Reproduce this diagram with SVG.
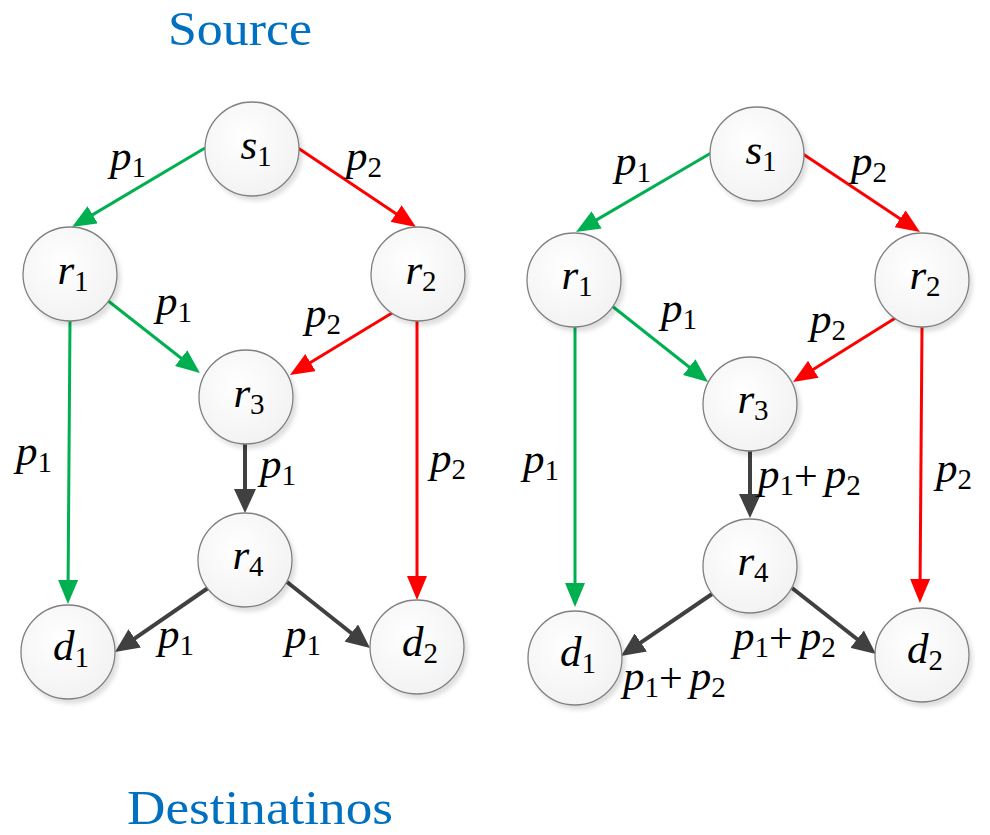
<svg xmlns="http://www.w3.org/2000/svg" width="990" height="835" viewBox="0 0 990 835">
<defs>
<radialGradient id="ng" cx="0.42" cy="0.38" r="0.65">
<stop offset="0" stop-color="#ffffff"/>
<stop offset="1" stop-color="#f2f2f2"/>
</radialGradient>
<filter id="sh" x="-20%" y="-20%" width="150%" height="150%">
<feDropShadow dx="3" dy="4" stdDeviation="2" flood-color="#000" flood-opacity="0.13"/>
</filter>
<marker id="ag" markerUnits="userSpaceOnUse" markerWidth="24" markerHeight="20" refX="14" refY="10" orient="auto"><path d="M0,0 L24,10 L0,20 Z" fill="#00B050"/></marker>
<marker id="ar" markerUnits="userSpaceOnUse" markerWidth="24" markerHeight="20" refX="14" refY="10" orient="auto"><path d="M0,0 L24,10 L0,20 Z" fill="#FF0000"/></marker>
<marker id="ak" markerUnits="userSpaceOnUse" markerWidth="24" markerHeight="22" refX="14" refY="11" orient="auto"><path d="M0,0 L24,11 L0,22 Z" fill="#404040"/></marker>
</defs>
<style>
.n circle{fill:url(#ng);stroke:#808080;stroke-width:1.3;filter:url(#sh)}
.t{font-family:"Liberation Serif","DejaVu Serif",serif;font-style:italic;font-size:43px;fill:#000;text-anchor:middle}
.lb{font-family:"Liberation Serif","DejaVu Serif",serif;font-style:italic;font-size:43px;fill:#000}
.sb{font-style:normal;font-size:29px}
.op{font-style:normal;font-size:42px}
.g{stroke:#00B050;stroke-width:3;fill:none;marker-end:url(#ag)}
.r{stroke:#FF0000;stroke-width:3;fill:none;marker-end:url(#ar)}
.k{stroke:#404040;stroke-width:4;fill:none;marker-end:url(#ak)}
.title{font-family:"Liberation Serif","DejaVu Serif",serif;font-size:49px;fill:#0070C0}
</style>

<text class="title" x="168" y="45" textLength="144" lengthAdjust="spacingAndGlyphs">Source</text>
<text class="title" x="127" y="824" textLength="266" lengthAdjust="spacingAndGlyphs">Destinatinos</text>

<g id="connectors">
<line class="g" x1="205" y1="148" x2="80.6" y2="221.9"/>
<line class="r" x1="298" y1="148" x2="407.7" y2="221.4"/>
<line class="g" x1="107" y1="300" x2="192.1" y2="366.8"/>
<line class="r" x1="392" y1="313" x2="298.5" y2="369.8"/>
<line class="g" x1="70" y1="320" x2="68" y2="594"/>
<line class="r" x1="417" y1="320" x2="417" y2="590"/>
<line class="k" x1="245" y1="444" x2="245" y2="503"/>
<line class="k" x1="208" y1="588" x2="123.2" y2="646.3"/>
<line class="k" x1="287" y1="582" x2="362.2" y2="641.8"/>
<line class="g" x1="711" y1="153" x2="584.6" y2="226.9"/>
<line class="r" x1="803" y1="154" x2="911.7" y2="226.5"/>
<line class="g" x1="612" y1="306" x2="700.2" y2="375.8"/>
<line class="r" x1="897" y1="317" x2="801.5" y2="376.7"/>
<line class="g" x1="575" y1="327" x2="575" y2="597"/>
<line class="r" x1="922" y1="327" x2="920" y2="593"/>
<line class="k" x1="750" y1="450" x2="750" y2="508"/>
<line class="k" x1="712" y1="594" x2="629.3" y2="650.4"/>
<line class="k" x1="792" y1="588" x2="868.1" y2="647.8"/>
</g>

<g id="edge-labels">
<text class="lb" x="110" y="170">p<tspan class="sb" dy="7">1</tspan></text>
<text class="lb" x="346" y="170">p<tspan class="sb" dy="7">2</tspan></text>
<text class="lb" x="156" y="315">p<tspan class="sb" dy="7">1</tspan></text>
<text class="lb" x="305" y="327">p<tspan class="sb" dy="7">2</tspan></text>
<text class="lb" x="16" y="465">p<tspan class="sb" dy="7">1</tspan></text>
<text class="lb" x="430" y="472">p<tspan class="sb" dy="7">2</tspan></text>
<text class="lb" x="260" y="478">p<tspan class="sb" dy="7">1</tspan></text>
<text class="lb" x="158" y="648">p<tspan class="sb" dy="7">1</tspan></text>
<text class="lb" x="285" y="648">p<tspan class="sb" dy="7">1</tspan></text>

<text class="lb" x="615" y="175">p<tspan class="sb" dy="7">1</tspan></text>
<text class="lb" x="851" y="175">p<tspan class="sb" dy="7">2</tspan></text>
<text class="lb" x="661" y="322">p<tspan class="sb" dy="7">1</tspan></text>
<text class="lb" x="810" y="333">p<tspan class="sb" dy="7">2</tspan></text>
<text class="lb" x="523" y="473">p<tspan class="sb" dy="7">1</tspan></text>
<text class="lb" x="936" y="482">p<tspan class="sb" dy="7">2</tspan></text>
<text class="lb" x="758" y="488">p<tspan class="sb" dy="7">1</tspan><tspan class="op" dy="-5">+</tspan><tspan dx="7" dy="-2">p</tspan><tspan class="sb" dy="7">2</tspan></text>
<text class="lb" x="733" y="650">p<tspan class="sb" dy="7">1</tspan><tspan class="op" dy="-5">+</tspan><tspan dx="7" dy="-2">p</tspan><tspan class="sb" dy="7">2</tspan></text>
<text class="lb" x="623" y="690">p<tspan class="sb" dy="7">1</tspan><tspan class="op" dy="-5">+</tspan><tspan dx="7" dy="-2">p</tspan><tspan class="sb" dy="7">2</tspan></text>
</g>

<g id="L-s1" class="n"><circle cx="252" cy="149" r="47"/><text class="t" x="256" y="159">s<tspan class="sb" dy="7">1</tspan></text></g>
<g id="L-r1" class="n"><circle cx="70" cy="274" r="47"/><text class="t" x="73" y="284">r<tspan class="sb" dy="7">1</tspan></text></g>
<g id="L-r2" class="n"><circle cx="418" cy="274" r="47"/><text class="t" x="421" y="284">r<tspan class="sb" dy="7">2</tspan></text></g>
<g id="L-r3" class="n"><circle cx="246" cy="397" r="47"/><text class="t" x="249" y="407">r<tspan class="sb" dy="7">3</tspan></text></g>
<g id="L-r4" class="n"><circle cx="245" cy="560" r="47"/><text class="t" x="248" y="569">r<tspan class="sb" dy="7">4</tspan></text></g>
<g id="L-d1" class="n"><circle cx="68" cy="652" r="47"/><text class="t" x="71" y="660">d<tspan class="sb" dy="7">1</tspan></text></g>
<g id="L-d2" class="n"><circle cx="417" cy="647" r="47"/><text class="t" x="420" y="656">d<tspan class="sb" dy="7">2</tspan></text></g>

<g id="R-s1" class="n"><circle cx="757" cy="154" r="47"/><text class="t" x="761" y="164">s<tspan class="sb" dy="7">1</tspan></text></g>
<g id="R-r1" class="n"><circle cx="574" cy="280" r="47"/><text class="t" x="577" y="289">r<tspan class="sb" dy="7">1</tspan></text></g>
<g id="R-r2" class="n"><circle cx="922" cy="280" r="47"/><text class="t" x="925" y="289">r<tspan class="sb" dy="7">2</tspan></text></g>
<g id="R-r3" class="n"><circle cx="750" cy="404" r="47"/><text class="t" x="753" y="413">r<tspan class="sb" dy="7">3</tspan></text></g>
<g id="R-r4" class="n"><circle cx="750" cy="566" r="47"/><text class="t" x="753" y="575">r<tspan class="sb" dy="7">4</tspan></text></g>
<g id="R-d1" class="n"><circle cx="575" cy="658" r="47"/><text class="t" x="578" y="666">d<tspan class="sb" dy="7">1</tspan></text></g>
<g id="R-d2" class="n"><circle cx="922" cy="655" r="47"/><text class="t" x="925" y="663">d<tspan class="sb" dy="7">2</tspan></text></g>
</svg>
